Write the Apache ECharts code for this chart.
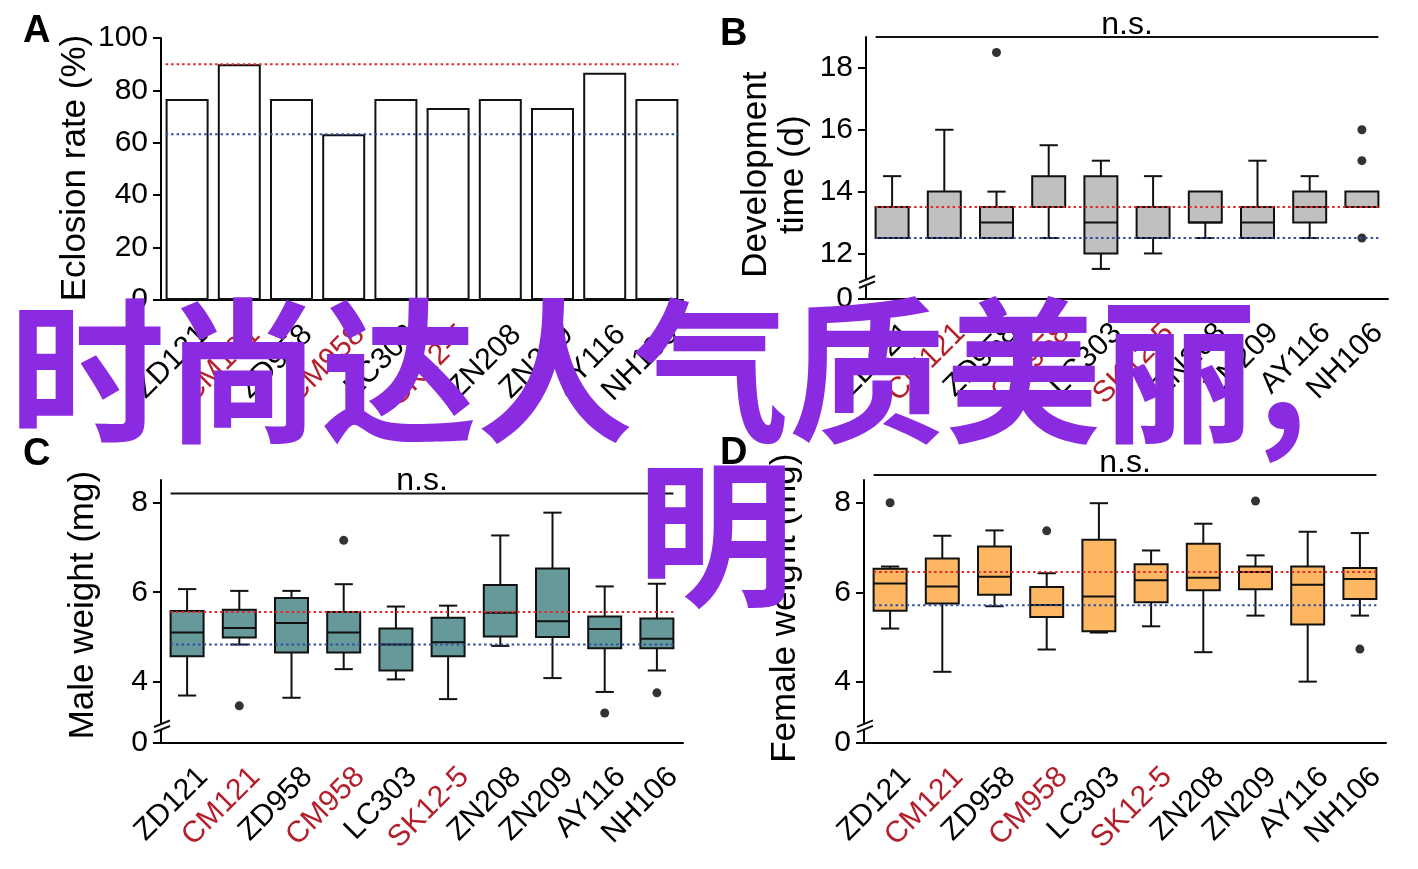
<!DOCTYPE html>
<html><head><meta charset="utf-8">
<script src="https://cdn.jsdelivr.net/npm/echarts@6/dist/echarts.min.js"></script>
<style>html,body{margin:0;padding:0;background:#fff}#c{width:1418px;height:869px}</style>
</head><body><div id="c"></div>
<script>
// ---------------- data ----------------
const categories = ['ZD121','CM121','ZD958','CM958','LC303','SK12-5','ZN208','ZN209','AY116','NH106'];
const redCategories = ['CM121','CM958','SK12-5'];

const eclosionRate = [76.7, 90, 76.7, 63.3, 76.7, 73.3, 76.7, 73.3, 86.7, 76.7];
const eclosionRefs = [90, 63.3];
const eclosionTicks = [0, 20, 40, 60, 80, 100];

// [low, q1, median, q3, high]
const devTimeBoxes = [
  [12.5, 12.5, 12.5, 13.5, 14.5],
  [12.5, 12.5, 12.5, 14.0, 16.0],
  [12.5, 12.5, 13.0, 13.5, 14.0],
  [12.5, 13.5, 13.5, 14.5, 15.5],
  [11.5, 12.0, 13.0, 14.5, 15.0],
  [12.0, 12.5, 13.5, 13.5, 14.5],
  [12.5, 13.0, 13.0, 14.0, 14.0],
  [12.5, 12.5, 13.0, 13.5, 15.0],
  [12.5, 13.0, 13.5, 14.0, 14.5],
  [13.5, 13.5, 13.5, 14.0, 14.0]
];
const devTimeOutliers = [[2, 18.5], [9, 16.0], [9, 15.0], [9, 12.5]];
const devTimeRefs = [13.5, 12.5];
const devTimeTicks = [12, 14, 16, 18];

const maleBoxes = [
  [3.69, 4.57, 5.10, 5.58, 6.07],
  [4.83, 4.99, 5.20, 5.61, 6.03],
  [3.64, 4.65, 5.31, 5.87, 6.03],
  [4.28, 4.65, 5.10, 5.56, 6.18],
  [4.05, 4.25, 4.83, 5.19, 5.68],
  [3.61, 4.57, 4.88, 5.43, 5.70],
  [4.80, 5.01, 5.54, 6.16, 7.27],
  [4.08, 5.00, 5.35, 6.53, 7.78],
  [3.77, 4.75, 5.18, 5.46, 6.13],
  [4.25, 4.75, 4.96, 5.41, 6.19]
];
const maleOutliers = [[1, 3.46], [3, 7.16], [8, 3.30], [9, 3.75]];
const maleRefs = [5.56, 4.83];

const femaleBoxes = [
  [5.19, 5.59, 6.20, 6.53, 6.58],
  [4.22, 5.75, 6.13, 6.76, 7.27],
  [5.69, 5.95, 6.35, 7.03, 7.39],
  [4.72, 5.45, 5.72, 6.12, 6.43],
  [5.10, 5.13, 5.91, 7.18, 8.00],
  [5.24, 5.78, 6.27, 6.63, 6.94],
  [4.66, 6.05, 6.33, 7.09, 7.54],
  [5.48, 6.07, 6.46, 6.58, 6.83],
  [4.00, 5.28, 6.17, 6.58, 7.36],
  [5.48, 5.85, 6.30, 6.55, 7.33]
];
const femaleOutliers = [[0, 8.01], [3, 7.38], [7, 8.05], [9, 4.73]];
const femaleRefs = [6.46, 5.71];
const weightTicks = [4, 6, 8];

const overlayLine1 = '时尚达人气质美丽,';
const overlayLine2 = '明';

// ---------------- styling helpers ----------------
const FONT = '"Liberation Sans", Arial, Helvetica, sans-serif';
const RED_REF = '#e3262b';
const BLUE_REF = '#2f4ea0';
const LABEL_RED = '#b3202c';
const LABEL_SHIFT = 0.31;   // shift of rotated label anchor in bands

const grids = [
  {left: 161, top: 38, width: 522, height: 262},
  {left: 866, top: 37, width: 522, height: 261.3},
  {left: 161, top: 480, width: 522, height: 262.3},
  {left: 864, top: 480, width: 522, height: 262.3}
].map(g => Object.assign(g, {containLabel: false, outerBoundsMode: 'none'}));
const yRanges = [
  {min: 0, max: 100},
  {min: 10.55, max: 19.0},
  {min: 2.644, max: 8.51},
  {min: 2.64, max: 8.52}
];
const yNames = ['Eclosion rate (%)', 'Development\ntime (d)', 'Male weight (mg)', 'Female weight (mg)'];
const yNameGaps = [58, 54, 59, 60];
const yNamePads = [[0, 0, 0, 2], [0, 14, 0, 0], [0, 0, 0, 12], [0, 0, 0, 6]];
const yTickSets = [eclosionTicks, devTimeTicks, weightTicks, weightTicks];

const xAxes = [], yAxes = [];
grids.forEach((g, gi) => {
  xAxes.push({
    type: 'category', gridIndex: gi, data: categories, position: 'bottom',
    axisLine: {onZero: false, lineStyle: {color: '#000', width: 2}},
    axisTick: {alignWithLabel: true, length: 10, lineStyle: {color: '#000', width: 2}},
    axisLabel: {show: false}, splitLine: {show: false}
  });
  xAxes.push({
    type: 'value', gridIndex: gi, position: 'bottom', min: -0.5 - LABEL_SHIFT, max: 9.5 - LABEL_SHIFT,
    axisLine: {show: false, onZero: false}, axisTick: {show: false}, splitLine: {show: false},
    axisLabel: {
      customValues: categories.map((c, i) => i),
      rotate: 45, margin: 30, fontSize: 30, fontFamily: FONT, color: '#000',
      formatter: v => {
        const c = categories[Math.round(v)];
        return redCategories.includes(c) ? '{r|' + c + '}' : '{k|' + c + '}';
      },
      rich: {
        r: {color: LABEL_RED, fontSize: 30, fontFamily: FONT},
        k: {color: '#000', fontSize: 30, fontFamily: FONT}
      }
    }
  });
  const r = yRanges[gi];
  const broken = gi > 0;
  const vals = broken ? [r.min].concat(yTickSets[gi]) : yTickSets[gi];
  yAxes.push({
    type: 'value', gridIndex: gi, min: r.min, max: r.max, position: 'left',
    name: yNames[gi], nameLocation: 'middle', nameGap: yNameGaps[gi], nameRotate: 90,
    nameTextStyle: {fontSize: 35, fontFamily: FONT, color: '#000', lineHeight: 37, padding: yNamePads[gi]},
    axisLine: {show: true, onZero: false, lineStyle: {color: '#000', width: 2}},
    axisTick: {show: true, length: 8, customValues: vals, lineStyle: {color: '#000', width: 2}},
    axisLabel: {customValues: vals, fontSize: 30, fontFamily: FONT, color: '#000', margin: 13,
      formatter: v => (v === r.min ? '0' : String(v))},
    splitLine: {show: false}
  });
});

function refLineSeries(gi, refs, halfFrac) {
  return {
    type: 'custom', xAxisIndex: gi * 2, yAxisIndex: gi, z: 20, silent: true,
    data: refs.map((v, i) => [0, v]),
    encode: {x: 0, y: 1},
    renderItem: (params, api) => {
      const v = api.value(1);
      const band = api.size([1, 0])[0];
      const p0 = api.coord([0, v]), p1 = api.coord([9, v]);
      const hw = band * halfFrac;
      return {type: 'line', shape: {x1: p0[0] - hw, y1: p0[1], x2: p1[0] + hw, y2: p1[1]},
        style: {stroke: params.dataIndex === 0 ? RED_REF : BLUE_REF, lineWidth: 2, lineDash: [2.5, 3]}};
    }
  };
}

function boxSeries(gi, boxes, fill) {
  return {
    type: 'custom', xAxisIndex: gi * 2, yAxisIndex: gi, z: 10, silent: true,
    data: boxes.map((b, i) => [i].concat(b)),
    encode: {x: 0, y: [1, 2, 3, 4, 5]},
    renderItem: (params, api) => {
      const i = api.value(0);
      const band = api.size([1, 0])[0];
      const hw = band * 0.316, cw = band * 0.175;
      const lo = api.coord([i, api.value(1)]), q1 = api.coord([i, api.value(2)]),
            md = api.coord([i, api.value(3)]), q3 = api.coord([i, api.value(4)]),
            hi = api.coord([i, api.value(5)]);
      const x = q1[0];
      const st = {stroke: '#111', lineWidth: 2};
      const ch = [];
      if (hi[1] < q3[1] - 0.5) {
        ch.push({type: 'line', shape: {x1: x, y1: q3[1], x2: x, y2: hi[1]}, style: st});
        ch.push({type: 'line', shape: {x1: x - cw, y1: hi[1], x2: x + cw, y2: hi[1]}, style: st});
      }
      if (lo[1] > q1[1] + 0.5) {
        ch.push({type: 'line', shape: {x1: x, y1: q1[1], x2: x, y2: lo[1]}, style: st});
        ch.push({type: 'line', shape: {x1: x - cw, y1: lo[1], x2: x + cw, y2: lo[1]}, style: st});
      }
      ch.push({type: 'rect', shape: {x: x - hw, y: q3[1], width: 2 * hw, height: q1[1] - q3[1]},
        style: {fill: fill, stroke: '#111', lineWidth: 2}});
      ch.push({type: 'line', shape: {x1: x - hw, y1: md[1], x2: x + hw, y2: md[1]}, style: st});
      return {type: 'group', children: ch};
    }
  };
}

function outlierSeries(gi, pts) {
  return {type: 'scatter', xAxisIndex: gi * 2, yAxisIndex: gi, z: 12, silent: true,
    symbol: 'circle', symbolSize: 9, itemStyle: {color: '#000'}, data: pts};
}

function nsSeries(gi, level) {
  return {
    type: 'custom', xAxisIndex: gi * 2, yAxisIndex: gi, z: 15, silent: true, clip: false,
    data: [[0, level]], encode: {x: 0, y: 1},
    renderItem: (params, api) => {
      const band = api.size([1, 0])[0];
      const hw = band * 0.316;
      const p0 = api.coord([0, api.value(1)]), p1 = api.coord([9, api.value(1)]);
      return {type: 'group', children: [
        {type: 'line', shape: {x1: p0[0] - hw, y1: p0[1], x2: p1[0] + hw, y2: p1[1]},
          style: {stroke: '#111', lineWidth: 2}},
        {type: 'text', style: {text: 'n.s.', x: (p0[0] + p1[0]) / 2, y: p0[1] + 4,
          align: 'center', verticalAlign: 'bottom', font: '32px ' + FONT, fill: '#000'}}
      ]};
    }
  };
}

function breakSeries(gi, level) {
  return {
    type: 'custom', xAxisIndex: gi * 2, yAxisIndex: gi, z: 30, silent: true, clip: false,
    data: [[0, level]], encode: {x: 0, y: 1},
    renderItem: (params, api) => {
      const band = api.size([1, 0])[0];
      const p = api.coord([0, api.value(1)]);
      const ax = p[0] - band / 2, y = p[1];
      const st = {stroke: '#111', lineWidth: 2};
      return {type: 'group', children: [
        {type: 'polygon', shape: {points: [[ax - 6, y + 2.5], [ax + 9, y - 3.5], [ax + 9, y - 8.5], [ax - 6, y - 2.5]]},
          style: {fill: '#fff'}},
        {type: 'line', shape: {x1: ax - 7, y1: y + 3, x2: ax + 9, y2: y - 3.5}, style: st},
        {type: 'line', shape: {x1: ax - 7, y1: y - 2.5, x2: ax + 9, y2: y - 9}, style: st}
      ]};
    }
  };
}

const series = [
  {type: 'bar', xAxisIndex: 0, yAxisIndex: 0, data: eclosionRate, barWidth: 43, z: 5, silent: true,
    itemStyle: {color: '#fff', borderColor: '#111', borderWidth: 2}},
  refLineSeries(0, eclosionRefs, 0.412),
  boxSeries(1, devTimeBoxes, '#c0c0c0'),
  outlierSeries(1, devTimeOutliers),
  refLineSeries(1, devTimeRefs, 0.316),
  nsSeries(1, 19.0),
  breakSeries(1, 10.98),
  boxSeries(2, maleBoxes, '#669999'),
  outlierSeries(2, maleOutliers),
  refLineSeries(2, maleRefs, 0.316),
  nsSeries(2, 8.21),
  breakSeries(2, 2.93),
  boxSeries(3, femaleBoxes, '#fdb762'),
  outlierSeries(3, femaleOutliers),
  refLineSeries(3, femaleRefs, 0.316),
  nsSeries(3, 8.63),
  breakSeries(3, 2.93)
];

const letterFont = 'bold 38px ' + FONT;
const graphic = [
  {type: 'text', left: 23, top: 13, style: {text: 'A', font: letterFont, fill: '#000'}},
  {type: 'text', left: 720, top: 16, style: {text: 'B', font: letterFont, fill: '#000'}},
  {type: 'text', left: 23, top: 436, style: {text: 'C', font: letterFont, fill: '#000'}},
  {type: 'text', left: 720, top: 435, style: {text: 'D', font: letterFont, fill: '#000'}},
  {type: 'text', left: 9, top: 293, z: 100,
    style: {text: overlayLine1, font: 'bold 156px "Noto Sans CJK SC"', fill: '#8a2be2'}},
  {type: 'text', left: 637, top: 455, z: 100,
    style: {text: overlayLine2, font: 'bold 157px "Noto Sans CJK SC"', fill: '#8a2be2'}}
];

const chart = echarts.init(document.getElementById('c'), null, {renderer: 'canvas'});
chart.setOption({
  animation: false,
  backgroundColor: '#fff',
  textStyle: {fontFamily: FONT},
  grid: grids,
  xAxis: xAxes,
  yAxis: yAxes,
  series: series,
  graphic: graphic
});
</script>
</body></html>
